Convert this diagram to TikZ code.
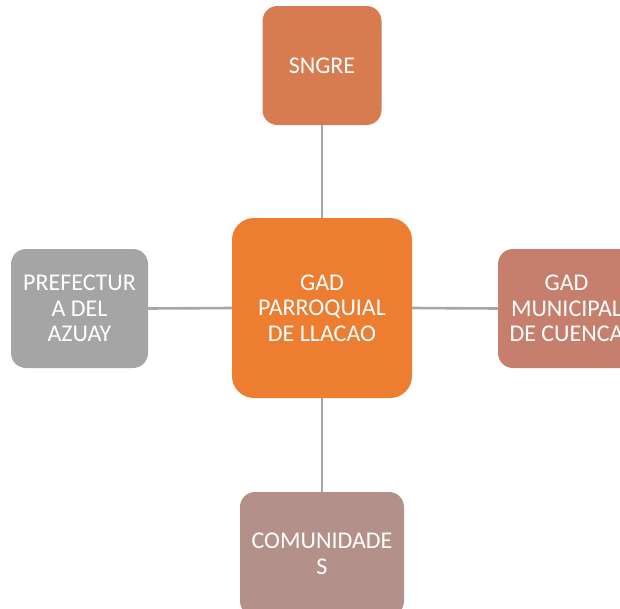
\documentclass[tikz,border=0pt]{standalone}
\usepackage{fontspec}
\setmainfont{Carlito}
\usepackage{xcolor}
\usetikzlibrary{positioning}
\definecolor{LlaOrange}{HTML}{ED7D31}
\definecolor{LlaRust}{HTML}{D77B51}
\definecolor{LlaGray}{HTML}{A5A5A5}
\definecolor{LlaClay}{HTML}{C67F6D}
\definecolor{LlaRose}{HTML}{B4908A}
\definecolor{LlaLine}{HTML}{A6A6A6}

\begin{document}
\begin{tikzpicture}[x=1pt, y=-1pt, font=\fontsize{24}{25.5}\selectfont,
  hub/.style={rounded corners=22pt, fill=LlaOrange, text=white, minimum width=180pt, minimum height=180pt, align=center, inner sep=0pt},
  actor/.style={rounded corners=15pt, text=white, align=center, inner sep=0pt},
  link/.style={line width=2.6pt, LlaLine}]
\useasboundingbox (0,0) rectangle (620,608);
\node[hub] (llacao) at (322,308) {GAD\\PARROQUIAL\\DE LLACAO};
\node[actor, fill=LlaRust, minimum width=119pt, minimum height=119pt] (sngre) at (322,65.5) {SNGRE};
\node[actor, fill=LlaGray, minimum width=137pt, minimum height=119pt] (prefectura) at (79.5,308.5) {PREFECTUR\\A DEL\\AZUAY};
\node[actor, fill=LlaClay, minimum width=137pt, minimum height=119pt] (cuenca) at (566.5,308.5) {GAD\\MUNICIPAL\\DE CUENCA};
\node[actor, fill=LlaRose, minimum width=164pt, minimum height=124pt] (comunidades) at (322,554) {COMUNIDADE\\S};
\draw[link] (llacao.north) -- (sngre.south);
\draw[link] (llacao.west) -- (prefectura.east);
\draw[link] (llacao.east) -- (cuenca.west);
\draw[link] (llacao.south) -- (comunidades.north);
\end{tikzpicture}
\end{document}
